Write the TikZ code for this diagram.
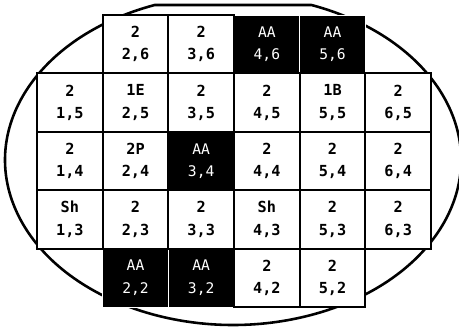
\documentclass[tikz,border=0pt]{standalone}
\usepackage{fontspec}
\usepackage{xcolor}
\newfontfamily\cellfont{DejaVu Sans Mono}
\usetikzlibrary{positioning}
\tikzset{
  cell/.style={draw,line width=1.7pt,fill=white,minimum width=1.97cm,minimum height=1.752cm,
    inner sep=0pt,align=center,font={\cellfont\bfseries\fontsize{13}{19}\selectfont}},
  dark/.style={cell,fill=black,draw=white,line width=0.4pt,text=white,
    font={\cellfont\fontsize{12.5}{19}\selectfont}},
  wafer/.style={line width=2.2pt}
}

\begin{document}
\begin{tikzpicture}[x=0.03cm,y=0.03cm]
  \useasboundingbox (0,0) rectangle (459,327);
  % wafer with its flat
  \coordinate (flatL) at (154.7,322);
  \draw[wafer] (flatL) arc[start angle=110.1,end angle=429.9,x radius=6.84cm,y radius=4.95cm] -- cycle;
  % dies
  \foreach \x/\y in {4/6,5/6,3/4,2/2,3/2}{
    \node[dark] (c\x\y) at ({37+65.67*(\x-0.5)},{312-58.4*(6.5-\y)}) {AA\\\x,\y};
  }
  \foreach \x/\y/\lab in {2/6/2,3/6/2,1/5/2,2/5/1E,3/5/2,4/5/2,5/5/1B,6/5/2,
      1/4/2,2/4/2P,4/4/2,5/4/2,6/4/2,1/3/Sh,2/3/2,3/3/2,4/3/Sh,5/3/2,6/3/2,4/2/2,5/2/2}{
    \node[cell] (c\x\y) at ({37+65.67*(\x-0.5)},{312-58.4*(6.5-\y)}) {\lab\\\x,\y};
  }
\end{tikzpicture}
\end{document}
